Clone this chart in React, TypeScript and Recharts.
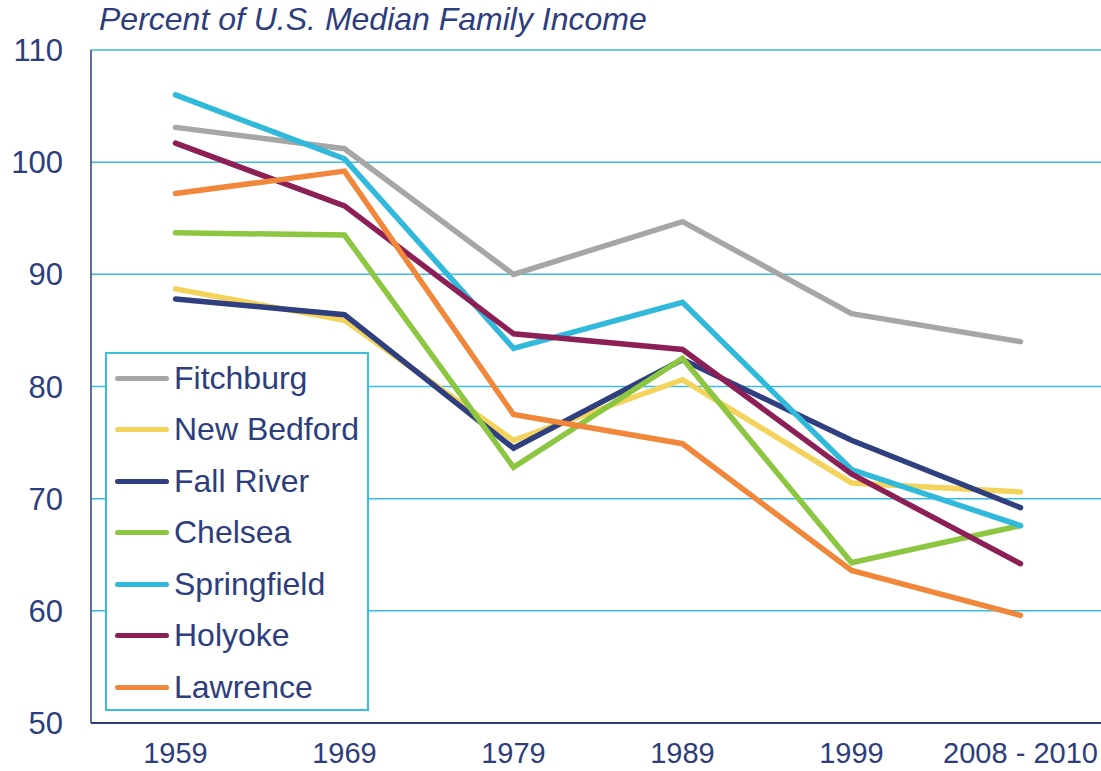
import { LineChart, Line, XAxis, YAxis, CartesianGrid } from 'recharts'

const YEARS = ['1959', '1969', '1979', '1989', '1999', '2008 - 2010']
const Y_TICKS = [50, 60, 70, 80, 90, 100, 110]

const FITCHBURG = [103.1, 101.2, 90.0, 94.7, 86.5, 84.0]
const NEW_BEDFORD = [88.7, 85.9, 75.2, 80.6, 71.4, 70.6]
const FALL_RIVER = [87.8, 86.4, 74.5, 82.4, 75.2, 69.2]
const CHELSEA = [93.7, 93.5, 72.8, 82.5, 64.3, 67.6]
const SPRINGFIELD = [106.0, 100.3, 83.4, 87.5, 72.6, 67.6]
const HOLYOKE = [101.7, 96.1, 84.7, 83.3, 72.2, 64.2]
const LAWRENCE = [97.2, 99.2, 77.5, 74.9, 63.6, 59.6]

const NAVY = '#2E3D7C'
const GRID = '#3BBDE0'
const FONT = '"Liberation Sans", Arial, sans-serif'

const SERIES = [
  { key: 'Fitchburg', values: FITCHBURG, color: '#A6A6A6' },
  { key: 'New Bedford', values: NEW_BEDFORD, color: '#F4D35C' },
  { key: 'Fall River', values: FALL_RIVER, color: '#2F3F80' },
  { key: 'Chelsea', values: CHELSEA, color: '#8DC641' },
  { key: 'Springfield', values: SPRINGFIELD, color: '#31B9DC' },
  { key: 'Holyoke', values: HOLYOKE, color: '#8C1F55' },
  { key: 'Lawrence', values: LAWRENCE, color: '#F0873A' },
]

const data = YEARS.map((label, i) => {
  const row: Record<string, number | string> = { x: i, label }
  SERIES.forEach((s) => {
    row[s.key] = s.values[i]
  })
  return row
})

// category boundaries get the tick marks, category centres get the labels
const boundaryTicks = [-0.5, ...YEARS.map((_, i) => i + 0.5)]
const centreTicks = YEARS.map((_, i) => i)

export default function App() {
  return (
    <div
      style={{
        position: 'absolute',
        left: 0,
        top: 0,
        width: 1101,
        height: 771,
        overflow: 'hidden',
        background: '#fff',
        fontFamily: FONT,
      }}
    >
      <div
        style={{
          position: 'absolute',
          left: 99,
          top: 1,
          fontSize: 32,
          fontStyle: 'italic',
          color: NAVY,
          whiteSpace: 'nowrap',
        }}
      >
        Percent of U.S. Median Family Income
      </div>
      <LineChart width={1106} height={771} data={data} margin={{ top: 50, right: 1, left: 0, bottom: 0 }}>
        <CartesianGrid vertical={false} stroke={GRID} strokeWidth={1.5} />
        <YAxis
          domain={[50, 110]}
          ticks={Y_TICKS}
          interval={0}
          width={91}
          tickLine={false}
          tickSize={0}
          tickMargin={28}
          axisLine={{ stroke: NAVY, strokeWidth: 1.5 }}
          tick={{ fill: NAVY, fontSize: 31, fontFamily: FONT }}
        />
        <XAxis
          xAxisId="frame"
          type="number"
          dataKey="x"
          domain={[-0.5, 5.5]}
          ticks={boundaryTicks}
          interval={0}
          height={10}
          tick={false}
          tickSize={10}
          tickLine={{ stroke: NAVY, strokeWidth: 1.5 }}
          axisLine={{ stroke: NAVY, strokeWidth: 2 }}
        />
        <XAxis
          xAxisId="labels"
          type="number"
          dataKey="x"
          domain={[-0.5, 5.5]}
          ticks={centreTicks}
          interval={0}
          height={38}
          tickLine={false}
          axisLine={false}
          tickSize={0}
          tickMargin={9}
          tickFormatter={(v: number) => YEARS[v]}
          tick={{ fill: NAVY, fontSize: 29, fontFamily: FONT }}
        />
        {SERIES.map((s) => (
          <Line
            key={s.key}
            xAxisId="frame"
            type="linear"
            dataKey={s.key}
            stroke={s.color}
            strokeWidth={5.5}
            strokeLinecap="round"
            dot={false}
            activeDot={false}
            isAnimationActive={false}
          />
        ))}
      </LineChart>
      <div
        style={{
          position: 'absolute',
          left: 105,
          top: 352,
          width: 260,
          height: 355,
          border: `2px solid ${GRID}`,
          background: '#fff',
          boxSizing: 'content-box',
        }}
      >
        {SERIES.map((s, i) => (
          <div
            key={s.key}
            style={{
              position: 'absolute',
              left: 8,
              top: 24 + i * 51.5 - 20,
              height: 40,
              display: 'flex',
              alignItems: 'center',
              whiteSpace: 'nowrap',
            }}
          >
            <span
              style={{
                display: 'inline-block',
                width: 54,
                height: 5,
                borderRadius: 3,
                background: s.color,
                marginRight: 5,
              }}
            />
            <span style={{ fontSize: 32, color: NAVY }}>{s.key}</span>
          </div>
        ))}
      </div>
    </div>
  )
}
